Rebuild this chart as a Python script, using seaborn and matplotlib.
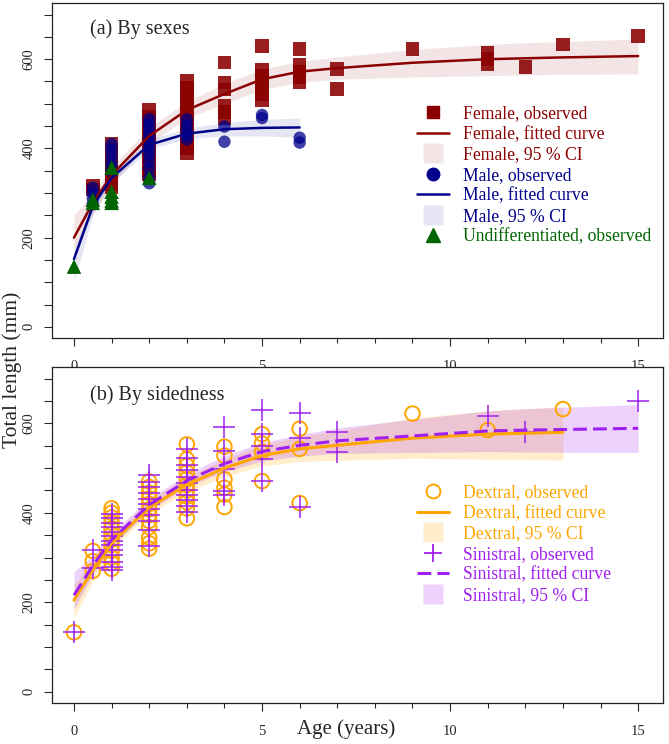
import pandas as pd
import matplotlib
matplotlib.use('Agg')
import matplotlib.pyplot as plt
import seaborn as sns
from matplotlib.lines import Line2D

# ------ DATA ------

# (a) by sexes: observed lengths per age (mm)
female_obs = {0.5: [316, 308],
              1: [410, 395, 380, 365, 350, 335, 320, 313],
              2: [486, 470, 455, 440, 425, 410, 395, 380, 365, 350, 343],
              3: [551, 535, 520, 505, 490, 475, 460, 445, 430, 415, 400, 390],
              4: [593, 548, 532, 495, 482, 468],
              5: [630, 576, 562, 548, 535, 522, 508],
              6: [623, 588, 572, 560, 548],
              7: [578, 533],
              9: [623],
              11: [615, 600, 588],
              12: [582],
              13: [633],
              15: [652]}
male_obs = {0.5: [312, 300, 288, 275],
            1: [410, 398, 385, 372, 360, 348],
            2: [466, 455, 445, 435, 425, 415, 405, 395, 385, 370, 355, 335, 322],
            3: [465, 452, 440, 430, 420],
            4: [449, 415],
            5: [475, 468],
            6: [424, 413]}
undiff_obs = {0: [135],
              0.5: [285, 278],
              1: [357, 303, 292, 283, 278],
              2: [334]}

# fitted curves and 95 % CI
female_fit_age = [0, 0.5, 1, 2, 3, 4, 5, 6, 7, 9, 11, 12, 13, 15]
female_fit = [200, 278, 340, 428, 486, 522, 555, 572, 580, 592, 600, 602, 604, 607]
female_lo = [172, 255, 320, 410, 468, 500, 532, 548, 555, 560, 563, 565, 566, 567]
female_hi = [250, 300, 360, 447, 505, 545, 578, 595, 605, 622, 633, 637, 640, 645]

male_fit_age = [0, 0.5, 1, 2, 3, 4, 5, 6]
male_fit = [152, 270, 334, 408, 433, 443, 446, 447]
male_lo = [100, 250, 322, 398, 422, 428, 428, 425]
male_hi = [172, 287, 347, 420, 445, 458, 465, 468]

# (b) by sidedness
dextral_obs = {0: [133],
               0.5: [315, 292, 270],
               1: [410, 400, 390, 378, 365, 352, 340, 328, 315, 300, 288, 275],
               2: [470, 458, 445, 432, 420, 408, 395, 382, 368, 345, 332, 320],
               3: [553, 520, 505, 490, 475, 462, 450, 437, 424, 410, 388],
               4: [548, 528, 475, 456, 441, 413],
               5: [576, 555, 537, 471],
               6: [588, 543, 422],
               9: [622],
               11: [585],
               13: [632]}
sinistral_obs = {0: [133],
                 0.5: [318, 277],
                 1: [398, 388, 378, 368, 358, 348, 338, 328, 318, 305, 290, 280, 272],
                 2: [485, 470, 458, 445, 432, 420, 408, 395, 382, 362, 326],
                 3: [542, 522, 508, 495, 480, 466, 452, 440, 428, 415, 401],
                 4: [593, 538, 497, 449, 440],
                 5: [630, 576, 549, 520, 471],
                 6: [623, 568, 413],
                 7: [580, 535],
                 11: [617],
                 12: [581],
                 15: [650]}

dextral_fit_age = [0, 0.5, 1, 2, 3, 4, 5, 6, 9, 11, 13]
dextral_fit = [205, 272, 332, 412, 463, 500, 528, 543, 567, 576, 580]
dextral_lo = [165, 248, 318, 398, 448, 480, 505, 515, 522, 520, 518]
dextral_hi = [240, 292, 348, 428, 480, 520, 552, 570, 612, 628, 637]

sinistral_fit_age = [0, 0.5, 1, 2, 3, 4, 5, 6, 7, 11, 12, 15]
sinistral_fit = [216, 282, 340, 418, 472, 510, 537, 551, 561, 583, 585, 589]
sinistral_lo = [185, 262, 326, 405, 458, 492, 516, 527, 533, 537, 536, 535]
sinistral_hi = [268, 305, 355, 432, 487, 528, 557, 575, 590, 628, 633, 642]

x_ticks = [0, 5, 10, 15]
y_labels = {0: '0', 200: '200', 400: '400', 600: '600'}

# colours
c_female, c_male, c_undiff = '#8B0000', '#00008B', '#006400'
c_dex, c_sin = '#FFA500', '#A020F0'


def to_frame(obs):
    rows = [(age, v) for age, vals in obs.items() for v in vals]
    return pd.DataFrame(rows, columns=['age', 'length'])


# ------ STYLE ------
sns.set_style('white')
plt.rcParams['font.family'] = ['Liberation Serif', 'DejaVu Serif']

fig = plt.figure(figsize=(6.69, 7.44), dpi=100)
ax1 = fig.add_axes([0.0777, 0.5457, 0.9133, 0.4503])
ax2 = fig.add_axes([0.0777, 0.0551, 0.9133, 0.4516])


def style_axis(ax):
    ax.set_xlim(-0.585, 15.66)
    ax.set_ylim(-25, 726)
    ax.set_xticks(x_ticks)
    ax.set_xticklabels([str(t) for t in x_ticks], fontsize=10.5)
    ax.set_xticks(range(0, 16), minor=True)
    yt = list(range(0, 701, 50))
    ax.set_yticks(yt)
    ax.set_yticklabels([y_labels.get(t, '') for t in yt], fontsize=10.5,
                       rotation=90, va='center')
    ax.tick_params(axis='x', which='major', direction='out', length=6,
                   width=0.8, pad=10, bottom=True)
    ax.tick_params(axis='x', which='minor', direction='out', length=3.5,
                   width=0.8, bottom=True)
    ax.tick_params(axis='y', direction='out', length=6, width=0.8, pad=6, left=True)
    for sp in ax.spines.values():
        sp.set_color('#222222')
        sp.set_linewidth(0.9)
    ax.set_xlabel('')
    ax.set_ylabel('')


# ------ (a) BY SEXES ------
ax1.fill_between(female_fit_age, female_lo, female_hi, color=c_female, alpha=0.1, lw=0)
ax1.fill_between(male_fit_age, male_lo, male_hi, color=c_male, alpha=0.1, lw=0)

sns.scatterplot(data=to_frame(female_obs), x='age', y='length', marker='s', s=95,
                color=c_female, alpha=0.88, edgecolor='none', ax=ax1, legend=False, zorder=3)
sns.scatterplot(data=to_frame(male_obs), x='age', y='length', marker='o', s=80,
                color=c_male, alpha=0.75, edgecolor='none', ax=ax1, legend=False, zorder=4)
sns.lineplot(x=female_fit_age, y=female_fit, color=c_female, lw=1.8, errorbar=None,
             ax=ax1, zorder=5)
sns.lineplot(x=male_fit_age, y=male_fit, color=c_male, lw=1.8, errorbar=None,
             ax=ax1, zorder=5)
sns.scatterplot(data=to_frame(undiff_obs), x='age', y='length', marker='^', s=110,
                color=c_undiff, edgecolor='none', ax=ax1, legend=False, zorder=6)

style_axis(ax1)
ax1.text(0.062, 0.922, '(a) By sexes', transform=ax1.transAxes, fontsize=14.5,
         va='center', ha='left')

handles1 = [Line2D([], [], ls='none', marker='s', ms=9, color=c_female),
            Line2D([], [], color=c_female, lw=1.8),
            Line2D([], [], ls='none', marker='s', ms=14, mfc=c_female, mec='none', alpha=0.1),
            Line2D([], [], ls='none', marker='o', ms=9, color=c_male),
            Line2D([], [], color=c_male, lw=1.8),
            Line2D([], [], ls='none', marker='s', ms=14, mfc=c_male, mec='none', alpha=0.1),
            Line2D([], [], ls='none', marker='^', ms=10, color=c_undiff)]
labels1 = ['Female, observed', 'Female, fitted curve', 'Female, 95 % CI',
           'Male, observed', 'Male, fitted curve', 'Male, 95 % CI',
           'Undifferentiated, observed']
text_cols1 = [c_female] * 3 + [c_male] * 3 + [c_undiff]
leg1 = ax1.legend(handles1, labels1, loc='upper left', bbox_to_anchor=(0.597, 0.695),
                  frameon=False, fontsize=12.7, handlelength=1.85, handletextpad=0.8,
                  labelspacing=0.2, borderpad=0, borderaxespad=0)
for t, c in zip(leg1.get_texts(), text_cols1):
    t.set_color(c)

# ------ (b) BY SIDEDNESS ------
ax2.fill_between(dextral_fit_age, dextral_lo, dextral_hi, color=c_dex, alpha=0.2, lw=0)
ax2.fill_between(sinistral_fit_age, sinistral_lo, sinistral_hi, color=c_sin, alpha=0.2, lw=0)

sns.scatterplot(data=to_frame(dextral_obs), x='age', y='length', marker='o', s=110,
                color=c_dex, facecolor='none', edgecolor=c_dex, linewidth=1.4,
                ax=ax2, legend=False, zorder=3)
sns.scatterplot(data=to_frame(sinistral_obs), x='age', y='length', marker='+', s=260,
                color=c_sin, linewidth=1.1, ax=ax2, legend=False, zorder=4)
sns.lineplot(x=dextral_fit_age, y=dextral_fit, color=c_dex, lw=2.2, errorbar=None,
             ax=ax2, zorder=5)
sns.lineplot(x=sinistral_fit_age, y=sinistral_fit, color=c_sin, lw=2.2, errorbar=None,
             linestyle=(0, (4.5, 2)), ax=ax2, zorder=6)

style_axis(ax2)
ax2.text(0.062, 0.917, '(b) By sidedness', transform=ax2.transAxes, fontsize=14.5,
         va='center', ha='left')

handles2 = [Line2D([], [], ls='none', marker='o', ms=10, mfc='none', mec=c_dex, mew=1.4),
            Line2D([], [], color=c_dex, lw=2.2),
            Line2D([], [], ls='none', marker='s', ms=14, mfc=c_dex, mec='none', alpha=0.2),
            Line2D([], [], ls='none', marker='+', ms=13, color=c_sin, mew=1.3),
            Line2D([], [], color=c_sin, lw=2.2, ls=(0, (4.5, 2))),
            Line2D([], [], ls='none', marker='s', ms=14, mfc=c_sin, mec='none', alpha=0.2)]
labels2 = ['Dextral, observed', 'Dextral, fitted curve', 'Dextral, 95 % CI',
           'Sinistral, observed', 'Sinistral, fitted curve', 'Sinistral, 95 % CI']
text_cols2 = [c_dex] * 3 + [c_sin] * 3
leg2 = ax2.legend(handles2, labels2, loc='upper left', bbox_to_anchor=(0.597, 0.651),
                  frameon=False, fontsize=12.7, handlelength=1.85, handletextpad=0.8,
                  labelspacing=0.2, borderpad=0, borderaxespad=0)
for t, c in zip(leg2.get_texts(), text_cols2):
    t.set_color(c)

fig.text(0.517, 0.020, 'Age (years)', fontsize=15, ha='center', va='center')
fig.text(0.018, 0.503, 'Total length (mm)', fontsize=15.5, rotation=90,
         ha='center', va='center')

fig.savefig('out.png', dpi=100)
